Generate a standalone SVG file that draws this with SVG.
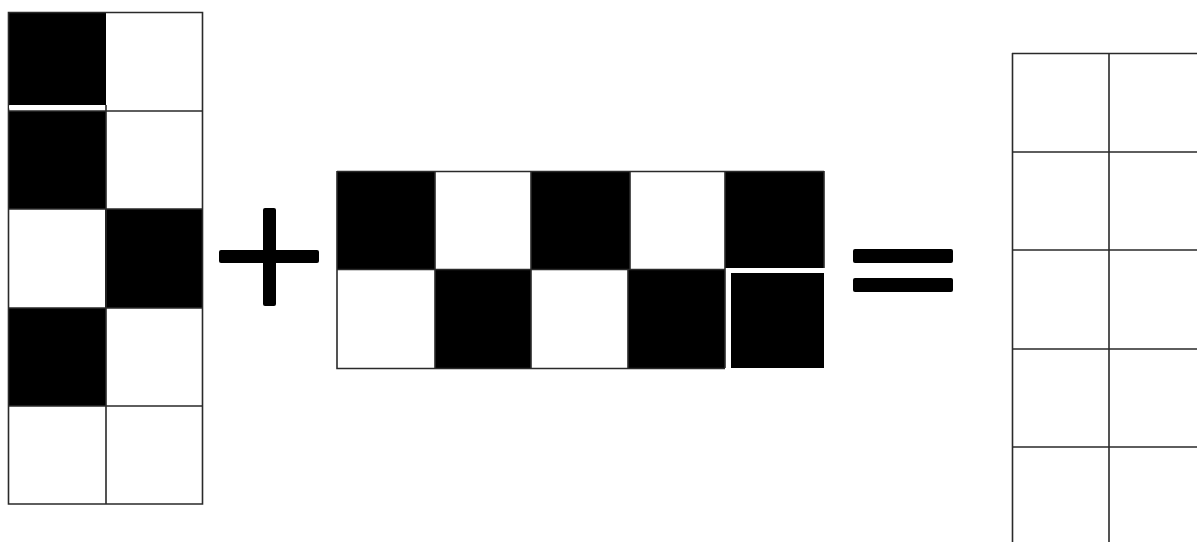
<svg xmlns="http://www.w3.org/2000/svg" width="1197" height="542" viewBox="0 0 1197 542">
<style>
.g{fill:none;stroke:#2a2a2a;stroke-width:1.6}
.b{fill:#000}
</style>
<rect width="1197" height="542" fill="#fff"/>
<g id="left-matrix">
<rect class="b" x="8" y="12" width="98" height="93"/>
<rect class="b" x="8" y="111" width="98" height="98"/>
<rect class="b" x="105" y="209" width="98" height="99"/>
<rect class="b" x="8" y="308" width="98" height="98"/>
<path class="g" d="M8.5 12.5H202.5V504H8.5ZM106 105V504M8.5 111H202.5M8.5 209H202.5M8.5 308H202.5M8.5 406H202.5"/>
<path d="M9 106.5H104M9 107.5H104" stroke="#fff" stroke-width="2"/>
<rect x="10" y="210" width="94" height="96" fill="#fff"/>
</g>
<g id="plus">
<rect class="b" x="219" y="250" width="100" height="13" rx="2"/>
<rect class="b" x="263" y="208" width="13" height="98" rx="2"/>
</g>
<g id="middle-matrix">
<rect class="b" x="337" y="171" width="98" height="99"/>
<rect class="b" x="531" y="171" width="99" height="99"/>
<rect class="b" x="725" y="171" width="99" height="97"/>
<rect class="b" x="435" y="269" width="96" height="99"/>
<rect class="b" x="628" y="269" width="97" height="99"/>
<rect class="b" x="731" y="273" width="93" height="95"/>
<path class="g" d="M337 171.5H824M337 171V368.5H725M337 269.5H725M435 171V368M531 171V368M630 171V270M628 270V368M725 171V368M824 171V268"/>
</g>
<g id="equals">
<rect class="b" x="853" y="249" width="100" height="14" rx="2"/>
<rect class="b" x="853" y="278" width="100" height="14" rx="2"/>
</g>
<g id="right-matrix">
<path class="g" d="M1012.5 53V542M1109 53V542M1012 53.5H1197M1012 152H1197M1012 250H1197M1012 349H1197M1012 447H1197"/>
</g>
<g id="connectors"/>
</svg>
